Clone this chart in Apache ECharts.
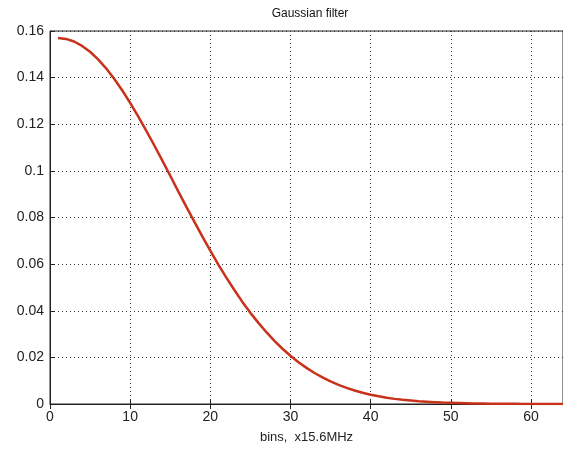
<!DOCTYPE html>
<html>
<head>
<meta charset="utf-8">
<script src="https://cdn.jsdelivr.net/npm/echarts@6/dist/echarts.min.js"></script>
<style>html,body{margin:0;padding:0;background:#fff}#c{width:563px;height:451px}</style>
</head>
<body>
<div id="c"></div>
<script>
const titleText = 'Gaussian filter';
const xName = 'bins,  x15.6MHz';
const bins = [];
for (let i = 1; i <= 64; i++) bins.push(i);
const values = [
  0.1570, 0.1566, 0.1555, 0.1536, 0.1511, 0.1478, 0.1440, 0.1395, 0.1346, 0.1292,
  0.1234, 0.1173, 0.1110, 0.1045, 0.0979, 0.0912, 0.0847, 0.0782, 0.0719, 0.0658,
  0.0598, 0.0542, 0.0489, 0.0438, 0.0391, 0.0348, 0.0308, 0.0271, 0.0237, 0.0207,
  0.0179, 0.0155, 0.0133, 0.0114, 0.0097, 0.0082, 0.0069, 0.0058, 0.0048, 0.0040,
  0.0033, 0.0027, 0.0022, 0.0018, 0.0015, 0.0012, 0.0010, 0.0008, 0.0006, 0.0005,
  0.0004, 0.0003, 0.0002, 0.0002, 0.0001, 0.0001, 0.0001, 0.0001, 0.0000, 0.0000,
  0.0000, 0.0000, 0.0000, 0.0000
];
const xTicks = [0, 10, 20, 30, 40, 50, 60];
const yTicks = [0, 0.02, 0.04, 0.06, 0.08, 0.1, 0.12, 0.14, 0.16];

const data = bins.map((b, i) => [b, values[i]]);
const font = 'Liberation Sans, Arial, sans-serif';
const chart = echarts.init(document.getElementById('c'), null, {renderer: 'canvas'});
chart.setOption({
  animation: false,
  backgroundColor: '#fff',
  title: {
    text: titleText, left: 305, top: 3, textAlign: 'center',
    textStyle: {fontFamily: font, fontSize: 12, fontWeight: 'normal', color: '#111'}
  },
  grid: {
    left: 50, top: 31, right: -6, bottom: 47,
    show: true, borderColor: '#222', borderWidth: 1, backgroundColor: '#fff'
  },
  xAxis: [{
    type: 'value', min: 0, max: 64, interval: 10,
    name: xName, nameLocation: 'middle', nameGap: 27,
    nameTextStyle: {fontFamily: font, fontSize: 13, color: '#222'},
    axisLine: {show: true, onZero: false, lineStyle: {color: '#222', width: 1}},
    axisTick: {show: true, inside: true, length: 5, lineStyle: {color: '#222'}},
    axisLabel: {fontFamily: font, fontSize: 14, color: '#222', margin: 6,
      showMaxLabel: false,
      formatter: v => xTicks.includes(v) ? String(v) : ''},
    splitLine: {show: true, lineStyle: {color: '#333', type: [1, 3], width: 1}}
  }, {
    type: 'value', min: 0, max: 64, interval: 10, position: 'top',
    axisLine: {show: false},
    axisTick: {show: true, inside: true, length: 5, lineStyle: {color: '#222'}},
    axisLabel: {show: false},
    splitLine: {show: false}
  }],
  yAxis: {
    type: 'value', min: 0, max: 0.16, interval: 0.02,
    axisLine: {show: true, lineStyle: {color: '#222', width: 1}},
    axisTick: {show: true, inside: true, length: 5, lineStyle: {color: '#222'}},
    axisLabel: {fontFamily: font, fontSize: 14, color: '#222', margin: 6,
      formatter: v => {
        const t = yTicks.find(y => Math.abs(y - v) < 1e-9);
        return t === undefined ? '' : String(parseFloat(t.toFixed(2)));
      }},
    splitLine: {show: true, lineStyle: {color: '#333', type: [1, 3], width: 1}}
  },
  series: [{
    type: 'line', data: data, xAxisIndex: 0, showSymbol: false, symbol: 'none',
    smooth: false, clip: true,
    lineStyle: {color: '#c8321a', width: 2.5}
  }]
});
</script>
</body>
</html>
